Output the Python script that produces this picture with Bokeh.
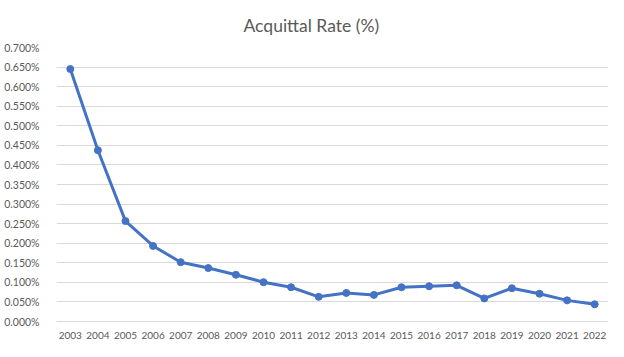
from bokeh.plotting import figure
from bokeh.models import FixedTicker, PrintfTickFormatter, FactorRange, Range1d, ColumnDataSource
from bokeh.embed import file_html
from bokeh.resources import INLINE

years = ["2003", "2004", "2005", "2006", "2007", "2008", "2009", "2010", "2011", "2012",
         "2013", "2014", "2015", "2016", "2017", "2018", "2019", "2020", "2021", "2022"]
acquittal_rate = [0.645, 0.4375, 0.2565, 0.193, 0.1515, 0.1365, 0.1195, 0.1005, 0.0875, 0.063,
                  0.073, 0.068, 0.0875, 0.090, 0.0925, 0.059, 0.085, 0.071, 0.054, 0.044]
y_ticks = [0.0, 0.05, 0.1, 0.15, 0.2, 0.25, 0.3, 0.35, 0.4, 0.45, 0.5, 0.55, 0.6, 0.65, 0.7]

FONT = "Lato"
GREY = "#595959"

src = ColumnDataSource(dict(year=years, rate=acquittal_rate))

p = figure(width=608, height=341, output_backend="svg", toolbar_location=None,
           x_range=FactorRange(factors=years), y_range=Range1d(0, 0.7),
           min_border_left=56, min_border_right=0, min_border_top=46, min_border_bottom=17)

p.title.text = "Acquittal Rate (%)"
p.title.align = "left"
p.title.offset = 187
p.title.text_font = FONT
p.title.text_font_size = "17.5px"
p.title.text_font_style = "normal"
p.title.text_color = GREY
p.title.text_line_height = 1.0
p.title.standoff = 24

p.line("year", "rate", source=src, line_color="#4472C4", line_width=3)
p.scatter("year", "rate", source=src, size=7, fill_color="#4472C4", line_color="#4472C4")

p.xgrid.grid_line_color = None
p.ygrid.grid_line_color = "#d9d9d9"
p.ygrid.grid_line_width = 1
p.outline_line_color = None

p.yaxis.ticker = FixedTicker(ticks=y_ticks)
p.yaxis.formatter = PrintfTickFormatter(format="%.3f%%")
p.yaxis.axis_line_color = None
p.yaxis.major_tick_line_color = None
p.yaxis.minor_tick_line_color = None
p.yaxis.major_label_standoff = 11
p.yaxis.major_label_text_font_size = "10.5px"

p.xaxis.axis_line_color = "#d9d9d9"
p.xaxis.major_tick_line_color = None
p.xaxis.minor_tick_line_color = None
p.xaxis.major_label_standoff = 4
p.xaxis.major_label_text_font_size = "10px"

for ax in (p.xaxis, p.yaxis):
    ax.major_label_text_font = FONT
    ax.major_label_text_color = GREY

open("out.html", "w").write(file_html(p, INLINE))
